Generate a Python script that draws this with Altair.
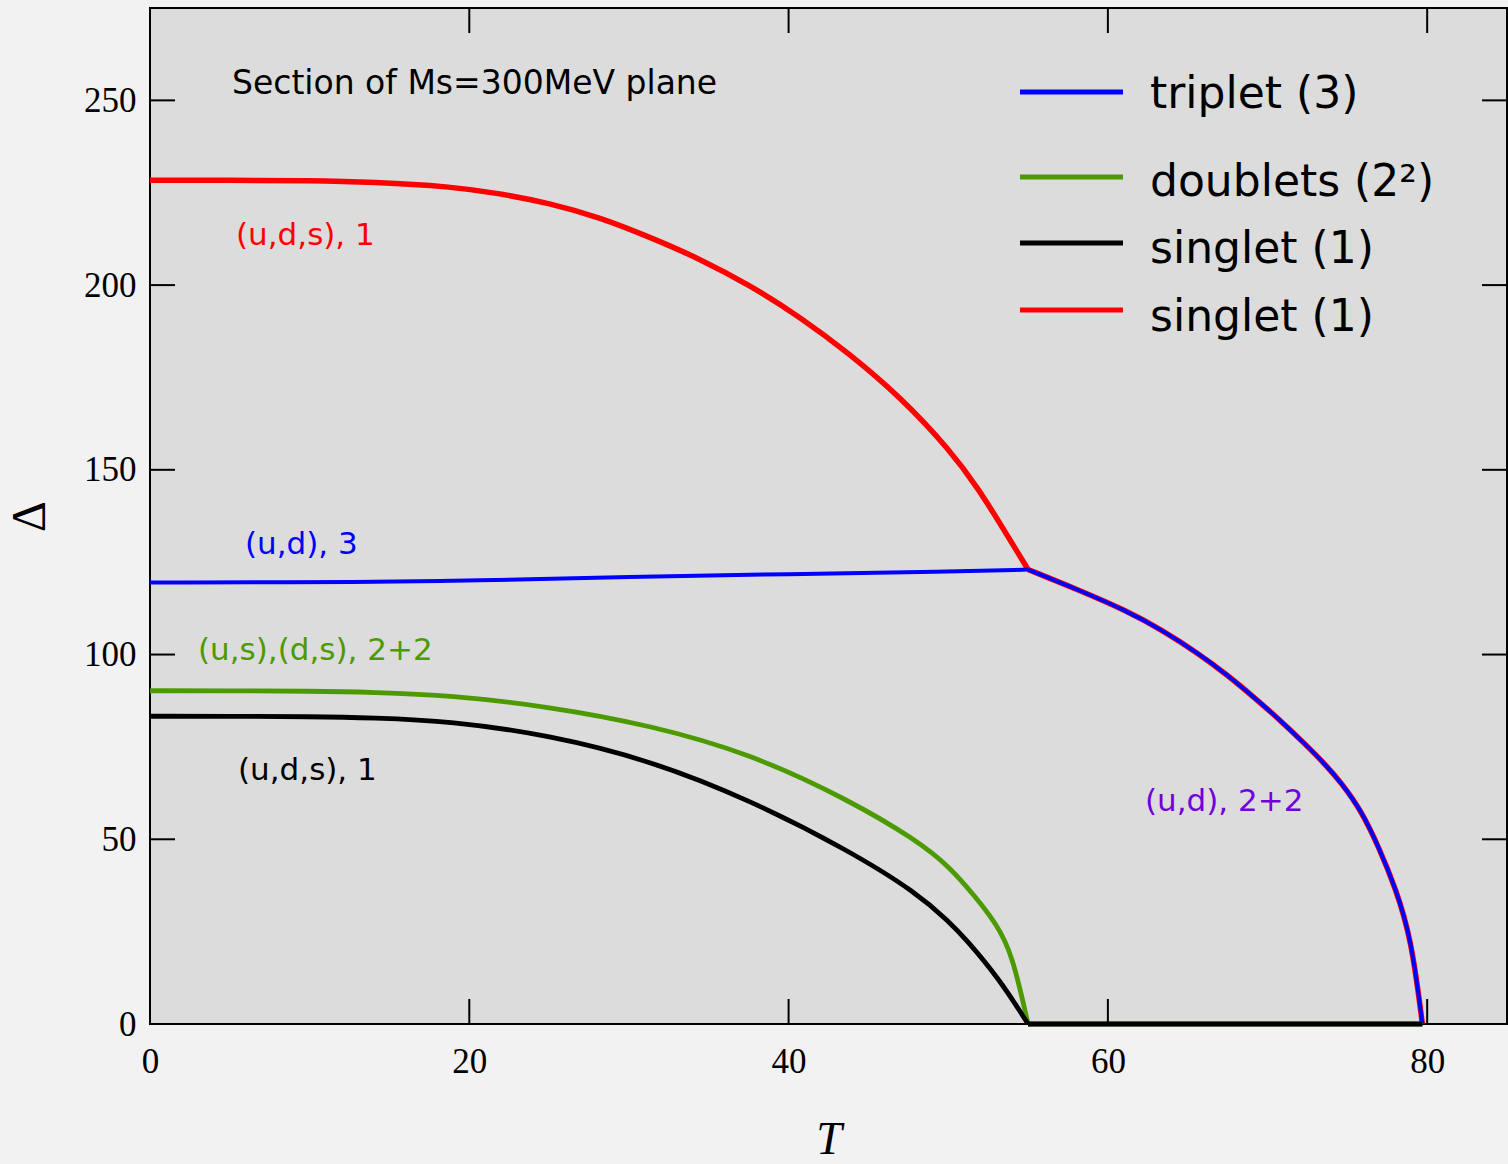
import altair as alt
import pandas as pd

# ---- data: gap parameter Delta versus temperature T ----
# (u,d,s) singlet, large gap, up to the point where it meets the triplet
T_red = [0, 5, 10, 14, 18.8, 21.9, 25.0, 28.2, 31.3, 34.4, 37.6, 40.7, 43.8, 47.0, 50.1, 51.9, 53.4, 55.0]
D_red = [228.4, 228.4, 228.3, 227.9, 226.7, 224.8, 222.2, 218.3, 213.0, 207.2, 199.9, 191.4, 181.5, 169.7, 155.4, 144.8, 134.4, 123.0]

# (u,d) triplet below the merging point
T_blue = [0, 14, 20, 30, 40, 50, 55.0]
D_blue = [119.5, 119.6, 120.0, 121.0, 121.8, 122.4, 123.0]

# common (u,d) 2+2 branch above the merging point
T_upper = [55.0, 58.1, 61.2, 63.4, 65.7, 67.5, 69.0, 70.8, 72.3, 73.7, 74.6, 75.9, 77.0, 78.0, 79.0, 79.7]
D_upper = [123.0, 117.6, 111.8, 106.6, 100.2, 94.4, 89.0, 82.2, 76.0, 69.9, 65.4, 57.6, 47.5, 37.0, 23.3, 0.0]

# (u,s),(d,s) doublets
T_green = [0, 5, 10, 14, 18.8, 25.0, 31.3, 37.6, 43.8, 48.0, 50.1, 51.7, 53.0, 54.0, 55.0, 79.7]
D_green = [90.2, 90.2, 90.1, 89.8, 89.0, 85.9, 80.9, 73.2, 60.6, 49.8, 42.5, 34.4, 27.2, 19.1, 0.0, 0.0]

# (u,d,s) singlet, small gap
T_black = [0, 5, 10, 14, 18.8, 25.0, 31.3, 37.6, 43.8, 48.0, 50.1, 51.1, 53.2, 55.0, 79.7]
D_black = [83.3, 83.3, 83.2, 82.9, 82.0, 78.2, 71.4, 60.6, 46.9, 35.6, 27.5, 23.0, 12.2, 0.0, 0.0]

x_ticks = [0, 20, 40, 60, 80]
y_ticks = [0, 50, 100, 150, 200, 250]

legend_labels = ["triplet (3)", "doublets (2\u00b2)", "singlet (1)", "singlet (1)"]
legend_colors = ["#0000ff", "#4c9a00", "#000000", "#ff0000"]

title_text = "Section of Ms=300MeV plane"
label_red = "(u,d,s), 1"
label_blue = "(u,d), 3"
label_green = "(u,s),(d,s), 2+2"
label_black = "(u,d,s), 1"
label_purple = "(u,d), 2+2"

# ---- layout ----
W, H = 1357, 1016
TICK = 25
T_GAP_END = 55.0  # where the small gaps vanish
SERIF = "Liberation Serif"
SANS = "DejaVu Sans"

x_scale = alt.Scale(domain=[0, 85], nice=False, zero=False)
y_scale = alt.Scale(domain=[0, 275], nice=False, zero=False)

x_axis = alt.Axis(values=x_ticks, title="T", grid=False, domain=False, ticks=False, tickSize=0,
                  labelFont=SERIF, labelFontSize=35, labelColor="black", labelPadding=20,
                  labelFlush=False, format="d",
                  titleFont=SERIF, titleFontSize=46, titleFontStyle="italic",
                  titleFontWeight="normal", titleColor="black", titlePadding=38)
y_axis = alt.Axis(values=y_ticks, title="\u0394", grid=False, domain=False, ticks=False, tickSize=0,
                  labelFont=SERIF, labelFontSize=35, labelColor="black", labelPadding=14,
                  labelFlush=False, format="d",
                  titleFont=SERIF, titleFontSize=48, titleFontWeight="normal",
                  titleColor="black", titlePadding=29)


def xq(field):
    return alt.X(field, type="quantitative", scale=x_scale, axis=x_axis)


def yq(field):
    return alt.Y(field, type="quantitative", scale=y_scale, axis=y_axis)


def curve(ts, ds, color, width, interp="basis"):
    df = pd.DataFrame({"T": ts, "D": ds, "i": list(range(len(ts)))})
    return alt.Chart(df).mark_line(color=color, strokeWidth=width, strokeJoin="round",
                                   interpolate=interp).encode(
        x=xq("T"), y=yq("D"), order=alt.Order("i:Q"))


def split(ts, ds):
    """Smooth part up to T_GAP_END and the flat zero tail after it."""
    head = [(t, d) for t, d in zip(ts, ds) if t <= T_GAP_END]
    tail = [(t, d) for t, d in zip(ts, ds) if t >= T_GAP_END]
    return [list(v) for v in zip(*head)], [list(v) for v in zip(*tail)]


layers = []

# curves: red under blue on the shared branch, black over green on the T axis
layers.append(curve(T_red, D_red, "#ff0000", 5.5))
layers.append(curve(T_upper, D_upper, "#ff0000", 5.5))
layers.append(curve(T_blue, D_blue, "#0000ff", 4))
layers.append(curve(T_upper, D_upper, "#0000ff", 4))
for ts, ds, col in [(T_green, D_green, "#4c9a00"), (T_black, D_black, "#000000")]:
    (ht, hd), (tt, td) = split(ts, ds)
    layers.append(curve(ht, hd, col, 4.8))
    layers.append(curve(tt, td, col, 4.8, interp="linear"))

# inward ticks on all four sides
xt = pd.DataFrame({"v": x_ticks[1:]})
yt = pd.DataFrame({"v": y_ticks[1:]})
for y0, y1 in [(H, H - TICK), (0, TICK)]:
    layers.append(alt.Chart(xt).mark_rule(color="black", strokeWidth=2).encode(
        x=xq("v"), y=alt.value(y0), y2=alt.value(y1)))
for x0, x1 in [(0, TICK), (W - TICK, W)]:
    layers.append(alt.Chart(yt).mark_rule(color="black", strokeWidth=2).encode(
        y=yq("v"), x=alt.value(x0), x2=alt.value(x1)))


def label(text, color, px, py, size):
    return alt.Chart(pd.DataFrame({"t": [text]})).mark_text(
        align="left", baseline="middle", font=SANS, fontSize=size, color=color
    ).encode(text="t:N", x=alt.value(px), y=alt.value(py))


layers.append(label(title_text, "black", 82, 76, 33))
layers.append(label(label_red, "#ff0000", 86, 228, 31))
layers.append(label(label_blue, "#0000ff", 95, 537, 31))
layers.append(label(label_green, "#4c9a00", 48, 643, 31))
layers.append(label(label_black, "black", 88, 763, 31))
layers.append(label(label_purple, "#7000dd", 995, 794, 31))

# hand-placed legend
for (name, col, ly, ty) in zip(legend_labels, legend_colors, [84, 169, 235, 302], [87, 175, 242, 310]):
    layers.append(alt.Chart(pd.DataFrame({"c": [col]})).mark_rule(color=col, strokeWidth=5).encode(
        x=alt.value(870), x2=alt.value(973), y=alt.value(ly)))
    layers.append(label(name, "black", 1000, ty, 44))

chart = alt.layer(*layers).properties(
    width=W, height=H,
    autosize=alt.AutoSizeParams(type="none"),
    padding={"left": 150, "top": 8, "right": 1, "bottom": 140},
    background="#f2f2f2",
).configure_view(fill="#dcdcdc", stroke="black", strokeWidth=2)

chart.save("out.html", embed_options={"renderer": "svg", "actions": False})
